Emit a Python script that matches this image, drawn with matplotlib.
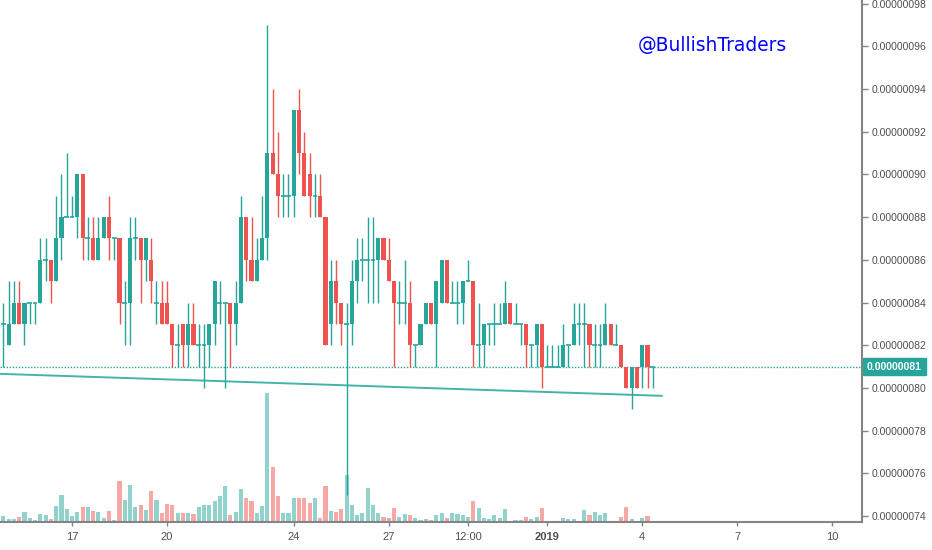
import matplotlib
matplotlib.use("Agg")
import matplotlib.pyplot as plt
from matplotlib.transforms import blended_transform_factory
import numpy as np

# 4-hour candles, index 0 = 17 Dec 00:00 ; prices in units of 1e-8
start_index = -13
opens = [83, 82, 83, 84, 83, 84, 84, 84, 86, 86,
         85, 87, 88, 88, 88, 90, 87, 87, 86, 87,
         88, 87, 87, 84, 84, 87, 87, 86, 86, 84,
         84, 84, 83, 82, 83, 82, 83, 82, 82, 82,
         83, 84, 84, 84, 83, 84, 88, 86, 85, 86,
         87, 91, 90, 89, 89, 89, 93, 91, 90, 89,
         89, 88, 83, 85, 84, 83, 83, 85, 86, 86,
         86, 86, 87, 86, 85, 84, 84, 84, 82, 82,
         83, 84, 83, 84, 86, 84, 84, 84, 85, 85,
         82, 82, 83, 83, 83, 83, 84, 83, 83, 83,
         82, 82, 83, 81, 81, 81, 81, 82, 82, 83,
         83, 83, 82, 82, 82, 83, 82, 82, 81, 80,
         81, 81, 82, 81]
highs = [84, 85, 85, 85, 84, 84, 84, 87, 87, 86,
         89, 90, 91, 89, 90, 90, 88, 88, 88, 88,
         89, 87, 87, 85, 88, 88, 87, 87, 87, 85,
         85, 85, 83, 83, 83, 84, 84, 83, 83, 83,
         85, 85, 84, 84, 85, 89, 88, 88, 87, 89,
         97, 94, 92, 90, 90, 93, 94, 92, 91, 90,
         90, 88, 86, 86, 84, 84, 86, 87, 87, 88,
         88, 87, 87, 87, 85, 85, 86, 85, 82, 83,
         84, 84, 85, 86, 86, 85, 85, 85, 86, 85,
         84, 83, 83, 84, 84, 85, 84, 84, 83, 83,
         82, 83, 83, 82, 82, 82, 83, 82, 84, 84,
         84, 83, 83, 83, 84, 83, 83, 82, 81, 81,
         81, 82, 82, 81]
lows = [81, 82, 83, 83, 82, 83, 83, 84, 85, 84,
        85, 86, 88, 88, 87, 86, 86, 86, 86, 87,
        86, 86, 83, 82, 82, 86, 84, 85, 84, 83,
        83, 83, 81, 81, 81, 81, 82, 81, 80, 81,
        82, 83, 80, 81, 82, 84, 85, 85, 85, 86,
        86, 90, 88, 88, 88, 88, 90, 89, 88, 88,
        88, 82, 82, 83, 82, 75, 82, 84, 85, 84,
        84, 84, 86, 85, 81, 83, 83, 81, 81, 82,
        83, 83, 81, 84, 84, 84, 83, 83, 85, 81,
        81, 81, 82, 82, 83, 83, 83, 83, 82, 81,
        81, 81, 80, 81, 81, 81, 81, 81, 82, 82,
        81, 81, 81, 81, 82, 82, 82, 81, 80, 79,
        80, 80, 80, 80]
closes = [83, 83, 84, 83, 84, 84, 84, 86, 86, 85,
          87, 88, 88, 88, 90, 87, 87, 86, 87, 88,
          87, 87, 84, 84, 87, 87, 86, 87, 85, 84,
          83, 83, 82, 82, 82, 83, 82, 82, 82, 83,
          85, 84, 84, 83, 84, 88, 86, 85, 86, 87,
          91, 90, 89, 89, 89, 93, 91, 89, 89, 89,
          88, 82, 85, 84, 83, 83, 85, 86, 86, 86,
          86, 87, 86, 85, 84, 84, 84, 82, 82, 83,
          84, 83, 85, 86, 84, 84, 84, 85, 85, 82,
          82, 83, 83, 83, 83, 84, 83, 83, 83, 82,
          82, 83, 81, 81, 81, 81, 82, 82, 83, 83,
          83, 82, 82, 82, 83, 82, 82, 81, 80, 81,
          80, 82, 81, 81]
volumes = [6, 3, 3, 5, 10, 4, 2, 8, 7, 3,
           16, 27, 13, 6, 10, 15, 15, 11, 10, 4,
           11, 2, 41, 22, 37, 15, 17, 12, 31, 22,
           9, 18, 17, 9, 9, 9, 8, 15, 17, 17,
           21, 26, 36, 7, 10, 33, 24, 21, 9, 16,
           129, 55, 26, 9, 9, 24, 24, 24, 19, 24,
           4, 36, 11, 10, 13, 47, 17, 7, 9, 34,
           17, 9, 5, 4, 14, 5, 8, 7, 4, 2,
           3, 2, 7, 9, 4, 9, 8, 7, 5, 21,
           14, 4, 3, 7, 4, 13, 0, 2, 2, 5,
           3, 5, 14, 1, 1, 1.5, 4, 3, 3, 1,
           12, 7, 10, 7, 9, 0, 1, 5, 15, 3,
           1, 4, 6, 1]

tick_pos = [0, 18, 42, 60, 75, 90, 108, 126, 144]
tick_labels = ["17", "20", "24", "27", "12:00", "2019", "4", "7", "10"]
price_ticks = [74, 76, 78, 80, 82, 84, 86, 88, 90, 92, 94, 96, 98]
last_price = 81
trend_x = [-13.64, 111.7]
trend_y = [80.66, 79.63]

UP = "#26a69a"
DOWN = "#ef5350"
AXC = "#858585"
TXT = "#4f4f4f"

W, H = 932, 550
fig = plt.figure(figsize=(W / 100, H / 100), dpi=100)
rect = [0, 28 / H, 862 / W, 522 / H]
xlim = (-13.64, 149.62)

ax_vol = fig.add_axes(rect)
ax = fig.add_axes(rect)
ax.patch.set_alpha(0)

n = len(opens)
idx = np.arange(start_index, start_index + n)
o = np.array(opens, float)
h = np.array(highs, float)
l = np.array(lows, float)
c = np.array(closes, float)
v = np.array(volumes, float)
down = c < o
cols = np.where(down, DOWN, UP)

# volume
ax_vol.bar(idx, v, width=0.78, color=cols, alpha=0.5, linewidth=0)
ax_vol.set_xlim(*xlim)
ax_vol.set_ylim(0, 522)
ax_vol.axis("off")

# candles
ax.vlines(idx, l, h, colors=cols, linewidth=1.0, zorder=3)
body = np.abs(c - o)
is_doji = body == 0
ax.bar(idx[~is_doji], body[~is_doji], bottom=np.minimum(o, c)[~is_doji], width=0.78,
       color=cols[~is_doji], linewidth=0, zorder=4)
ax.hlines(o[is_doji], idx[is_doji] - 0.45, idx[is_doji] + 0.45, colors=cols[is_doji],
          linewidth=1.2, zorder=4)

# trend line and last price
ax.plot(trend_x, trend_y, color=UP, linewidth=1.4, alpha=0.85, zorder=2)
ax.axhline(last_price, color=UP, linestyle=(0, (1, 1.2)), linewidth=1.0, zorder=2)

ax.set_xlim(*xlim)
ax.set_ylim(73.72, 98.17)

for s in ["top", "left"]:
    ax.spines[s].set_visible(False)
for s in ["right", "bottom"]:
    ax.spines[s].set_color(AXC)
    ax.spines[s].set_linewidth(1.5)

ax.yaxis.tick_right()
ax.set_yticks(price_ticks)
ax.set_yticklabels([f"{p * 1e-8:.8f}" for p in price_ticks])
ax.tick_params(axis="y", length=4, width=1, color=AXC, pad=3,
               labelsize=7.5, labelcolor=TXT)
ax.set_xticks(tick_pos)
ax.set_xticklabels(tick_labels)
ax.tick_params(axis="x", length=3, width=1, color=AXC, pad=4,
               labelsize=8, labelcolor=TXT)
for lab in ax.get_xticklabels() + ax.get_yticklabels():
    lab.set_fontfamily("Liberation Sans")
for lab in ax.get_xticklabels():
    if lab.get_text() == "2019":
        lab.set_fontweight("bold")

# last price label
tr = blended_transform_factory(ax.transAxes, ax.transData)
ax.text(1.0 + 5 / 862, last_price, f"{last_price * 1e-8:.8f}", transform=tr,
        ha="left", va="center", color="white", fontsize=7.5, fontweight="bold",
        family="Liberation Sans", clip_on=False, zorder=10,
        bbox=dict(boxstyle="square,pad=0.35", fc=UP, ec=UP))

# watermark
fig.text(638 / W, 1 - 45 / H, "@BullishTraders", color="#0000ff", fontsize=13.4,
         family="DejaVu Sans", ha="left", va="center")

fig.savefig("out.png", dpi=100)
